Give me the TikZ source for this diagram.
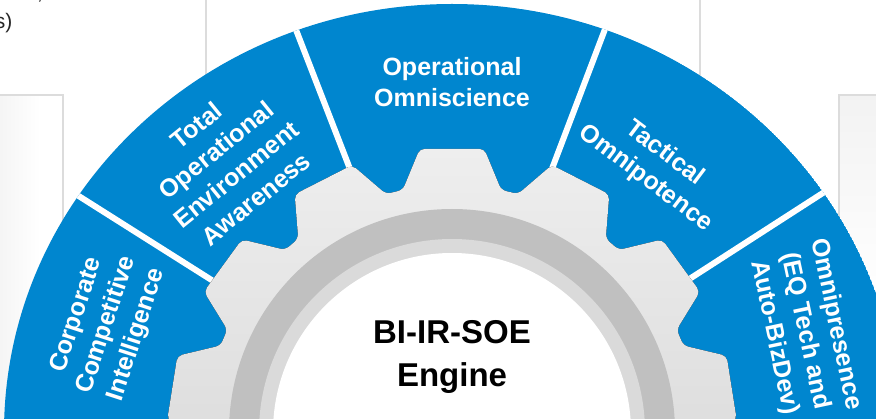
\documentclass[tikz,border=0pt]{standalone}
\usepackage{fontspec}
\setmainfont{Liberation Sans}
\definecolor{segblue}{RGB}{0,134,207}
\definecolor{boxgray}{RGB}{220,220,220}
\definecolor{gearA}{RGB}{238,238,238}
\definecolor{gearB}{RGB}{208,208,208}
\definecolor{ringdark}{RGB}{192,192,192}
\definecolor{ringlight}{RGB}{218,218,218}
\tikzset{
  boxline/.style={draw=boxgray, line width=1.6pt},
  seglabel/.style={text=white, font=\bfseries\fontsize{25}{31.5}\selectfont, align=center, inner sep=0pt},
  sepline/.style={draw=white, line width=6pt},
  enginelabel/.style={text=black, font=\bfseries\fontsize{33}{43}\selectfont, align=center, inner sep=0pt},
  bgtext/.style={text=black!85, font=\fontsize{21}{25}\selectfont, inner sep=0pt}
}
\begin{document}
\begin{tikzpicture}[x=1pt,y=1pt]
\useasboundingbox (0,0) rectangle (876,-419);
\clip (0,0) rectangle (876,-419);
\fill[white] (0,0) rectangle (876,-419);
% background fragments
\shade[left color=black!4, right color=white] (0,-95) rectangle (40,-419);
\shade[top color=black!5, bottom color=white] (839,-95) rectangle (876,-300);
\draw[boxline] (206,0) -- (206,-120);
\draw[boxline] (700,0) -- (700,-120);
\draw[boxline] (0,-95) -- (63,-95) -- (63,-260);
\draw[boxline] (876,-95) -- (839,-95) -- (839,-419);
\node[bgtext, anchor=base east] (frag1) at (12.5,-29) {s)};
\node[bgtext, anchor=base west] (frag2) at (37,0.5) {,};
% blue ring
\coordinate (C) at (452,-432);
\begin{scope}
  \clip (C) ellipse [x radius=448, y radius=428];
  \fill[segblue] (C) ellipse [x radius=448, y radius=428];
  \foreach \a in {147.7,111.2,69.2,32.8} \draw[sepline] (C) -- ++(\a:700);
\end{scope}
% gear
\begin{scope}[shift={(452,-432)}]
  \fill[top color=gearA, bottom color=gearB, rounded corners=5pt]
    (-70:247)
    \foreach \c in {-45,-18,9,36,63,90,117,144,171,198,225} {
      -- ({\c-11.5}:247) -- ({\c-6.5}:285) -- ({\c+6.5}:285) -- ({\c+11.5}:247)
    } -- (260:247) -- cycle;
  \fill[ringdark] (0,0) circle (223);
  \fill[ringlight] (0,0) circle (193);
  \fill[white] (0,0) circle (179);
\end{scope}
% labels
\node[seglabel] (corp) at (107,-325) [rotate=72] {Corporate\\Competitive\\Intelligence};
\node[seglabel] (total) at (226,-162) [rotate=39] {Total\\Operational\\Environment\\Awareness};
\node[seglabel] (omni) at (452,-82) {Operational\\Omniscience};
\node[seglabel] (tact) at (655,-166) [rotate=-37] {Tactical\\Omnipotence};
\node[seglabel] (pres) at (805,-331) [rotate=-78] {Omnipresence\\(EQ Tech and\\Auto-BizDev)};
\node[enginelabel] (engine) at (452,-357) {BI-IR-SOE\\Engine};
\end{tikzpicture}
\end{document}
